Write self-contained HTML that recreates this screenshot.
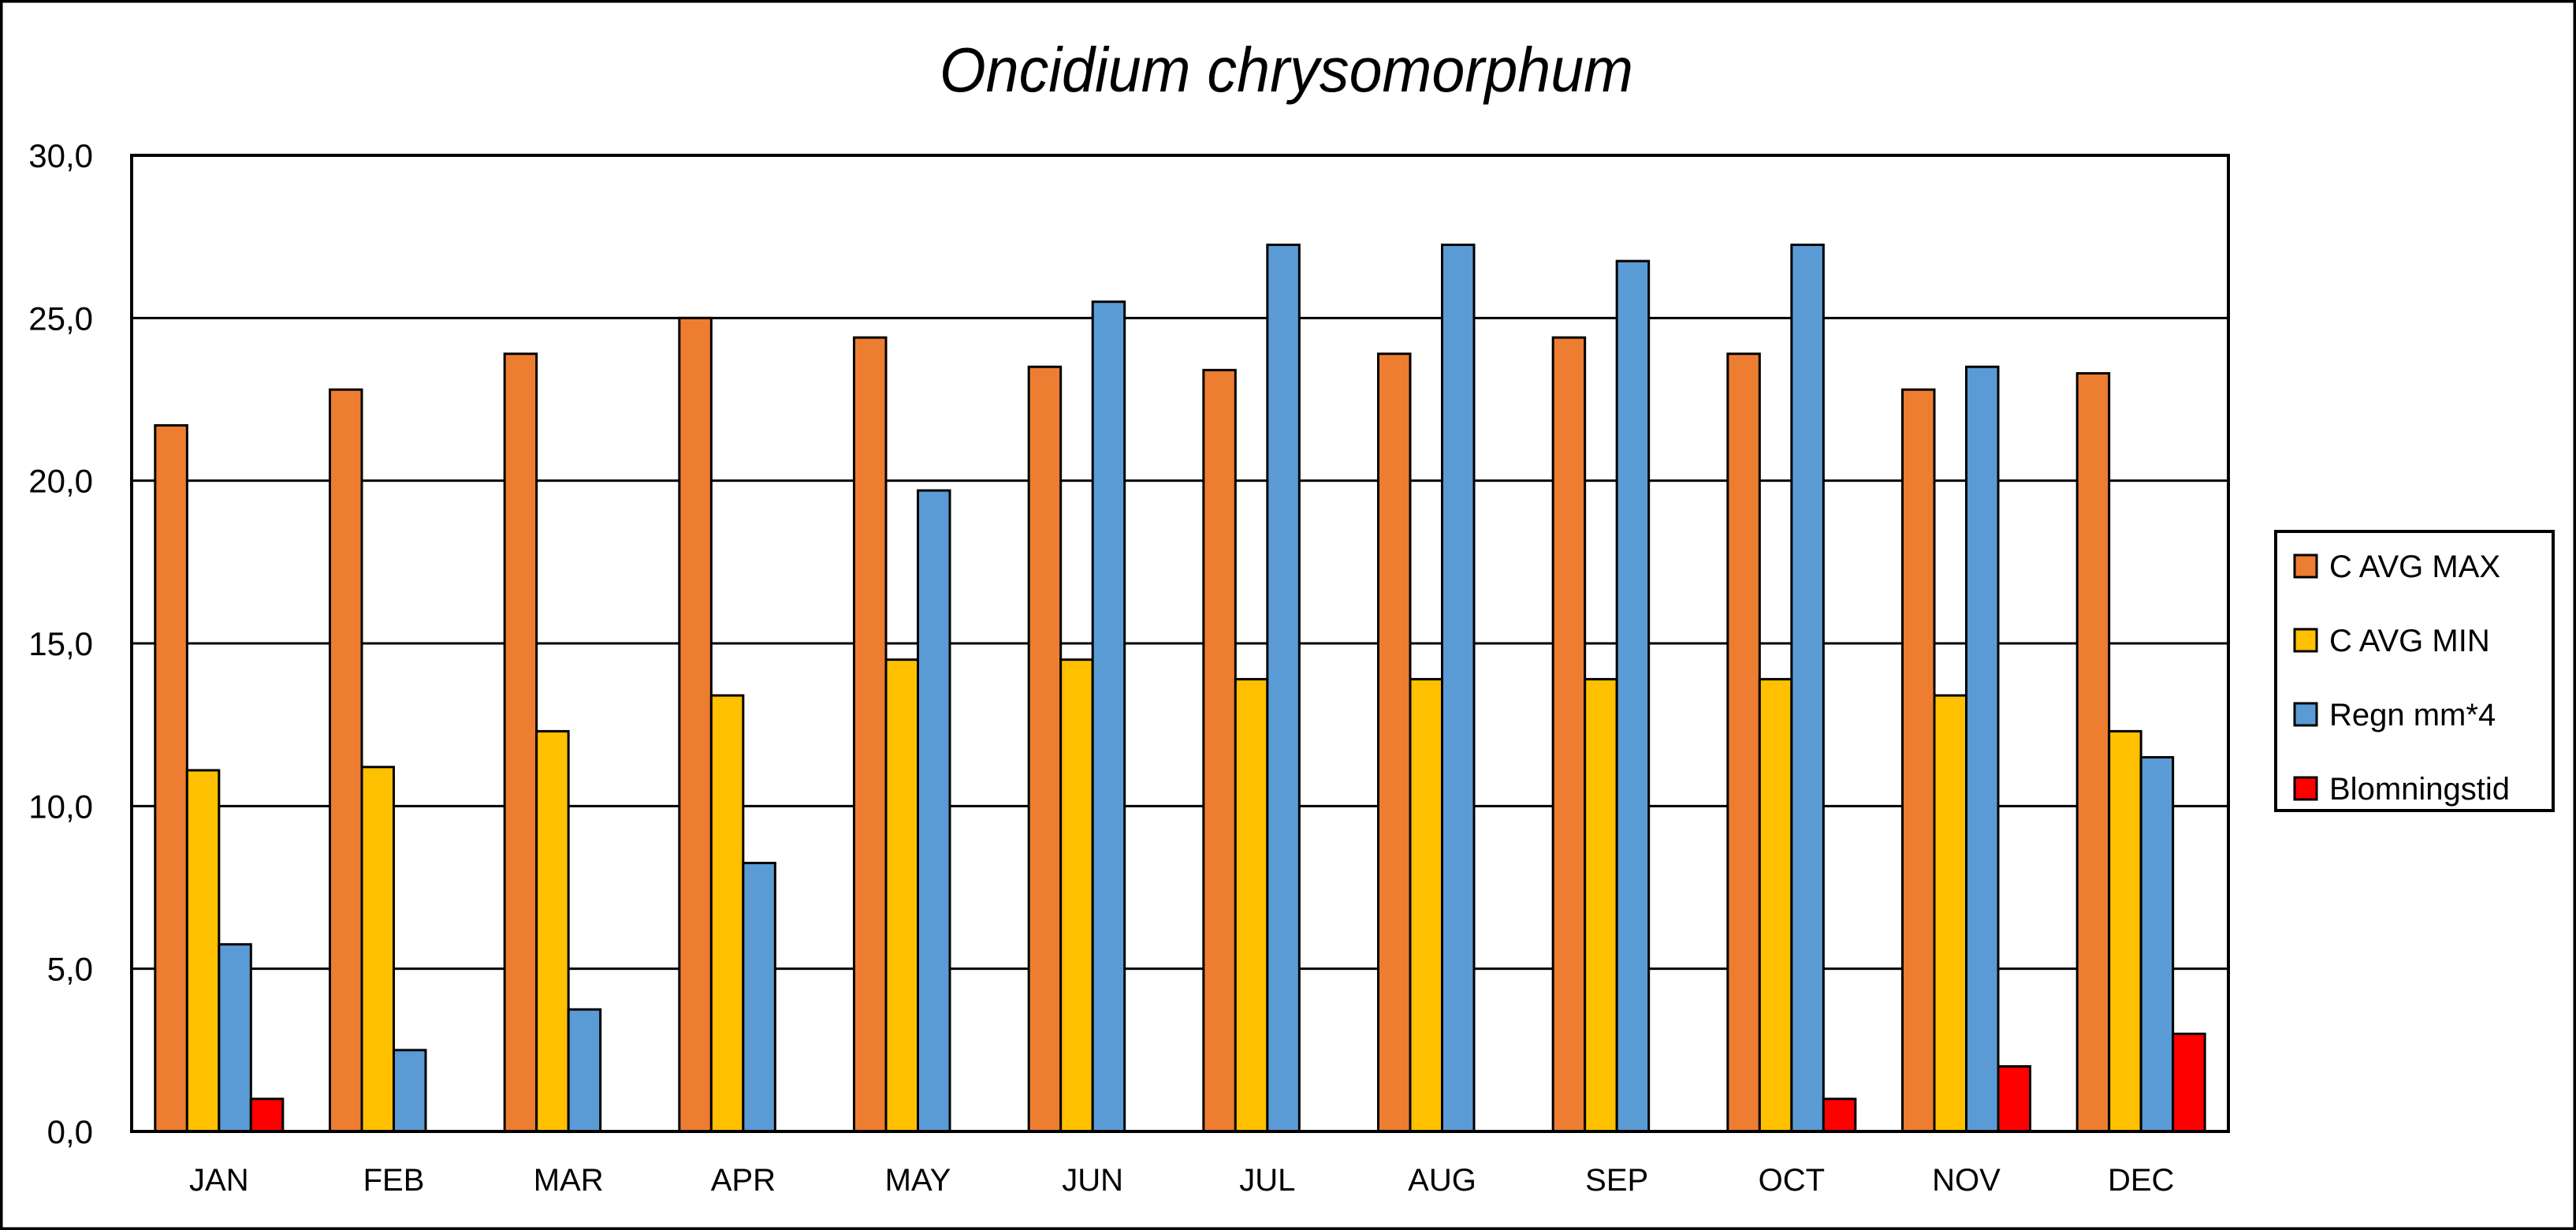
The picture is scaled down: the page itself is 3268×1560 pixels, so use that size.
<!DOCTYPE html>
<html><head><meta charset="utf-8"><style>
html,body{margin:0;padding:0;background:#fff;}
svg{display:block;}
text{font-family:"Liberation Sans",sans-serif;fill:#000;}
</style></head><body>
<svg id="chart" width="3268" height="1560" viewBox="0 0 3268 1560" xmlns="http://www.w3.org/2000/svg">
<rect x="1.5" y="1.5" width="3265" height="1557" fill="#fff" stroke="#000" stroke-width="4"/>
<text x="1632" y="116" font-size="80" font-style="italic" text-anchor="middle" textLength="880" lengthAdjust="spacingAndGlyphs">Oncidium chrysomorphum</text>
<g id="grid"></g>
<g id="bars"></g>
<rect x="167" y="197" width="2660" height="1238" fill="none" stroke="#000" stroke-width="4"/>
<g id="yticks"></g>
<g id="xticks"></g>
<g>
<rect x="2887" y="674" width="352" height="354" fill="#fff" stroke="#000" stroke-width="4"/>
<g id="legend"></g>
</g>
</svg>
<script>
const categories=["JAN","FEB","MAR","APR","MAY","JUN","JUL","AUG","SEP","OCT","NOV","DEC"];
const avgMax=[21.7,22.8,23.9,25.0,24.4,23.5,23.4,23.9,24.4,23.9,22.8,23.3];
const avgMin=[11.1,11.2,12.3,13.4,14.5,14.5,13.9,13.9,13.9,13.9,13.4,12.3];
const rain=[5.75,2.5,3.75,8.25,19.7,25.5,27.25,27.25,26.75,27.25,23.5,11.5];
const bloom=[1,0,0,0,0,0,0,0,0,1,2,3];
const yTicks=[0,5,10,15,20,25,30];
const yTickLabels=["0,0","5,0","10,0","15,0","20,0","25,0","30,0"];
const seriesNames=["C AVG MAX","C AVG MIN","Regn mm*4","Blomningstid"];
const seriesColors=["#ED7D31","#FFC000","#5B9BD5","#FF0000"];
const seriesKeys=["c-avg-max","c-avg-min","regn","blomningstid"];
const series=[avgMax,avgMin,rain,bloom];

const NS="http://www.w3.org/2000/svg";
const L=167,R=2827,T=197,B=1435,YMAX=30;
const cw=(R-L)/categories.length, bw=40.5, off=(cw-4*bw)/2;
const y=v=>B-(v/YMAX)*(B-T);
const x=(i,s)=>L+i*cw+off+s*bw;
function mk(tag,attrs,parent){const e=document.createElementNS(NS,tag);for(const k in attrs)e.setAttribute(k,attrs[k]);parent.appendChild(e);return e;}
const grid=document.getElementById('grid'),bars=document.getElementById('bars'),yt=document.getElementById('yticks'),xt=document.getElementById('xticks'),lg=document.getElementById('legend');
yTicks.forEach((v,i)=>{
  if(v>0&&v<YMAX){const g=mk('line',{x1:L,x2:R,y1:y(v),y2:y(v),stroke:'#000','stroke-width':3},grid);
  
  }
  const t=mk('text',{x:118,y:y(v)+15,'font-size':42,'text-anchor':'end'},yt);
  t.textContent=yTickLabels[i];
  
  
});
categories.forEach((c,i)=>{
  const t=mk('text',{x:L+(i+0.5)*cw,y:1510,'font-size':40,'text-anchor':'middle'},xt);
  t.textContent=c;
  
  
  series.forEach((arr,s)=>{
    const v=arr[i]; if(!v) return;
    const r=mk('rect',{x:x(i,s),y:y(v),width:bw,height:B-y(v),fill:seriesColors[s],stroke:'#000','stroke-width':3},bars);
    
    
  });
});
seriesNames.forEach((n,s)=>{
  const cy=718+s*94;
  const sw=mk('rect',{x:2911,y:cy-14,width:28,height:28,fill:seriesColors[s],stroke:'#000','stroke-width':3},lg);
  
  
  const t=mk('text',{x:2955,y:cy+14,'font-size':40},lg);
  t.textContent=n;
  
  
});
</script>
</body></html>
